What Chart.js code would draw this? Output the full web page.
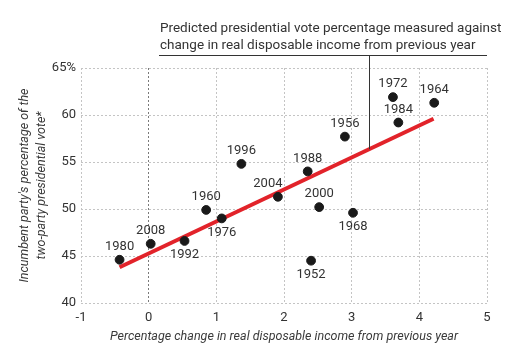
<!DOCTYPE html>
<html><head><meta charset="utf-8">
<script src="https://cdn.jsdelivr.net/npm/chart.js@4"></script>
<style>html,body{margin:0;padding:0;background:#fff}#wrap{width:523px;height:355px}</style>
</head><body><div id="wrap"><canvas id="c" width="523" height="355"></canvas></div>
<script>
const years   = ['1980','2008','1992','1960','1976','1996','2004','1988','2000','1952','1968','1956','1972','1984','1964'];
const incomeChange = [-0.43, 0.03, 0.53, 0.85, 1.08, 1.37, 1.91, 2.35, 2.52, 2.40, 3.02, 2.90, 3.61, 3.69, 4.22];
const voteShare    = [44.6, 46.3, 46.6, 49.9, 49.0, 54.8, 51.3, 54.0, 50.2, 44.5, 49.6, 57.7, 61.9, 59.2, 61.3];
const labelSide    = ['up','up','down','up','down','up','up','up','up','down','down','up','up','up','up'];
const labelShiftX  = [0,0,0,0,0,0,-10,0,0,0,0,0,0,0,0];
const fitX = [-0.43, 4.21];
const fitY = [43.8, 59.6];
const annotationX = 3.26;
const annotationLines = ['Predicted presidential vote percentage measured against','change in real disposable income from previous year'];
const xTicks = [-1,0,1,2,3,4,5];
const yTicks = [40,45,50,55,60,65];

const FONT = 'Roboto, "Liberation Sans", sans-serif';

const labelPlugin = {
  id:'labels',
  afterDatasetsDraw(chart){
    const ctx = chart.ctx, xs = chart.scales.x, ys = chart.scales.y;
    ctx.save();
    ctx.font = '13px ' + FONT;
    ctx.fillStyle = '#333';
    ctx.textAlign = 'center';
    ctx.textBaseline = 'middle';
    years.forEach((yr,i)=>{
      const px = xs.getPixelForValue(incomeChange[i]) + labelShiftX[i];
      const py = ys.getPixelForValue(voteShare[i]);
      ctx.fillText(yr, px, labelSide[i]==='up' ? py-13 : py+14);
    });
    // annotation
    const ax = Math.round(xs.getPixelForValue(annotationX))+0.5;
    const t = (annotationX-fitX[0])/(fitX[1]-fitX[0]);
    const ay = ys.getPixelForValue(fitY[0]+t*(fitY[1]-fitY[0]));
    const lineY = 55.5;
    ctx.strokeStyle = '#333';
    ctx.lineWidth = 1;
    ctx.beginPath();
    ctx.moveTo(159, lineY); ctx.lineTo(xs.right, lineY);
    ctx.moveTo(ax, lineY); ctx.lineTo(ax, ay);
    ctx.stroke();
    ctx.font = '13.5px ' + FONT;
    ctx.textAlign = 'left';
    ctx.textBaseline = 'alphabetic';
    ctx.fillText(annotationLines[0], 160, 32);
    ctx.fillText(annotationLines[1], 160, 49);
    ctx.restore();
  }
};

new Chart(document.getElementById('c'), {
  type:'scatter',
  data:{
    datasets:[
      {type:'line', data: fitX.map((x,i)=>({x, y:fitY[i]})), borderColor:'#e2232a', borderWidth:4, pointRadius:0, fill:false, order:2, borderCapStyle:'butt'},
      {data: incomeChange.map((x,i)=>({x, y:voteShare[i]})), backgroundColor:'#1a1a1a', borderColor:'#1a1a1a', pointRadius:4.4, pointHoverRadius:4.4, order:1}
    ]
  },
  options:{
    responsive:false, animation:false, devicePixelRatio:1,
    layout:{padding:{top:68,right:36,left:0,bottom:11}},
    plugins:{legend:{display:false}, tooltip:{enabled:false}},
    scales:{
      x:{
        type:'linear', min:-1, max:5,
        afterBuildTicks(s){ s.ticks = xTicks.map(v=>({value:v})); },
        afterFit(s){ s.height = 41; },
        border:{display:false, dash:[2,2]},
        grid:{drawTicks:false, color:(c)=>c.tick && c.tick.value===0 ? '#7a7a7a' : '#c4c4c4', lineWidth:1},
        ticks:{font:{family:FONT,size:13}, color:'#333', padding:7},
        title:{display:true, text:'Percentage change in real disposable income from previous year', font:{family:FONT,size:12.5,style:'italic'}, color:'#3a3a3a', padding:{top:1,bottom:0}}
      },
      y:{
        type:'linear', min:40, max:65,
        afterBuildTicks(s){ s.ticks = yTicks.map(v=>({value:v})); },
        afterFit(s){ s.width = 81; },
        border:{display:false, dash:[2,2]},
        grid:{drawTicks:false, color:'#c4c4c4', lineWidth:1},
        ticks:{font:{family:FONT,size:13}, color:'#333', padding:5, callback:(v)=> v===65 ? '65%' : String(v)},
        title:{display:true, text:["Incumbent party's percentage of the","two-party presidential vote*"], font:{family:FONT,size:12.5,style:'italic',lineHeight:1.4}, color:'#3a3a3a', padding:{top:16,bottom:0}}
      }
    },
    elements:{line:{tension:0}}
  },
  plugins:[labelPlugin]
});
</script></body></html>
